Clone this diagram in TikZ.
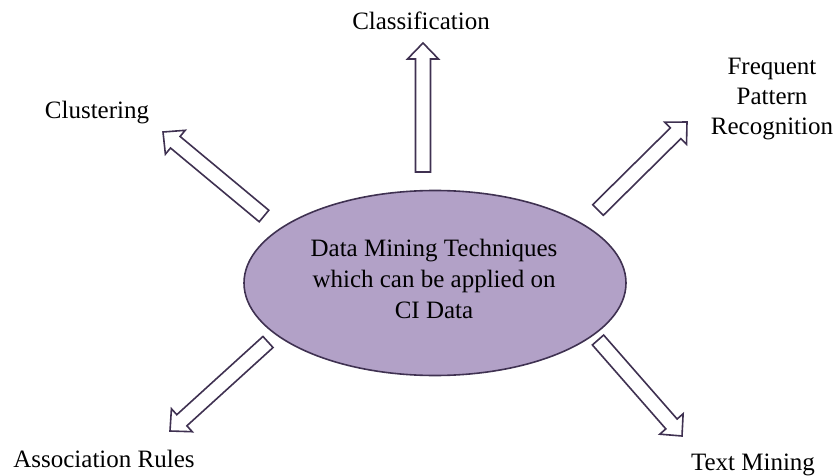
\documentclass[tikz,border=0pt]{standalone}
\usepackage{fontspec}
\setmainfont{Liberation Serif}
\usepackage{xcolor}
\usetikzlibrary{positioning,calc,shapes.geometric}

\definecolor{corefill}{HTML}{B2A1C7}
\definecolor{coreline}{HTML}{3F3151}

\begin{document}
\begin{tikzpicture}[
					x=1pt, y=-1pt, % toa do theo pixel cua hinh goc
					core/.style={
						ellipse, draw=coreline, line width=1.6pt,
						fill=corefill,
						minimum width=382pt, minimum height=185pt,
						align=center,
						font=\fontsize{25}{31}\selectfont
					},
					lbl/.style={               % nhan cua tung ky thuat
						align=center,
						font=\fontsize{25}{30}\selectfont
					},
					% --- Mui ten rong, vien tim, ruot trang ---
					blockarrow/.style={
						draw=coreline, line width=1.6pt, fill=white,
						line join=miter,
						to path={
							coordinate (ah) at ($(\tikztotarget)!16pt!(\tikztostart)$)
							($(\tikztostart)!7.5pt!90:(\tikztotarget)$)
							-- ($(ah)!7.5pt!90:(\tikztotarget)$)
							-- ($(ah)!15.5pt!90:(\tikztotarget)$)
							-- (\tikztotarget)
							-- ($(ah)!15.5pt!-90:(\tikztotarget)$)
							-- ($(ah)!7.5pt!-90:(\tikztotarget)$)
							-- ($(\tikztostart)!7.5pt!-90:(\tikztotarget)$)
							-- cycle
						}
					}
					]
					\useasboundingbox (0,0) rectangle (838,476);
					
					% --- Hinh elip o giua ---
					\node[core] (dm) at (435,283) {};
					\node[align=center, font=\fontsize{25}{31}\selectfont] (dmtext) at (434,279) {Data Mining Techniques\\which can be applied on\\CI Data};
					
					% --- Cac nhan ---
					\node[lbl] (cls) at (421,21) {Classification};
					\node[lbl] (clu) at (97,113) {Clustering};
					\node[lbl] (fpr) at (772,99) {Frequent\\Pattern\\Recognition};
					\node[lbl] (asr) at (104,459) {Association Rules};
					\node[lbl] (txm) at (753,465) {Text Mining};
					
					% --- Dau va duoi cac mui ten ---
					\coordinate (t-cls) at (423,172);  \coordinate (h-cls) at (423,43);
					\coordinate (t-clu) at (264,216);  \coordinate (h-clu) at (163,132);
					\coordinate (t-fpr) at (598,210);  \coordinate (h-fpr) at (687,122);
					\coordinate (t-asr) at (268,342);  \coordinate (h-asr) at (170,431);
					\coordinate (t-txm) at (598,340);  \coordinate (h-txm) at (682,436);
					
					\foreach \k in {cls, clu, fpr, asr, txm} {
						\draw[blockarrow] (t-\k) to (h-\k);
					}
					
				\end{tikzpicture}
\end{document}
